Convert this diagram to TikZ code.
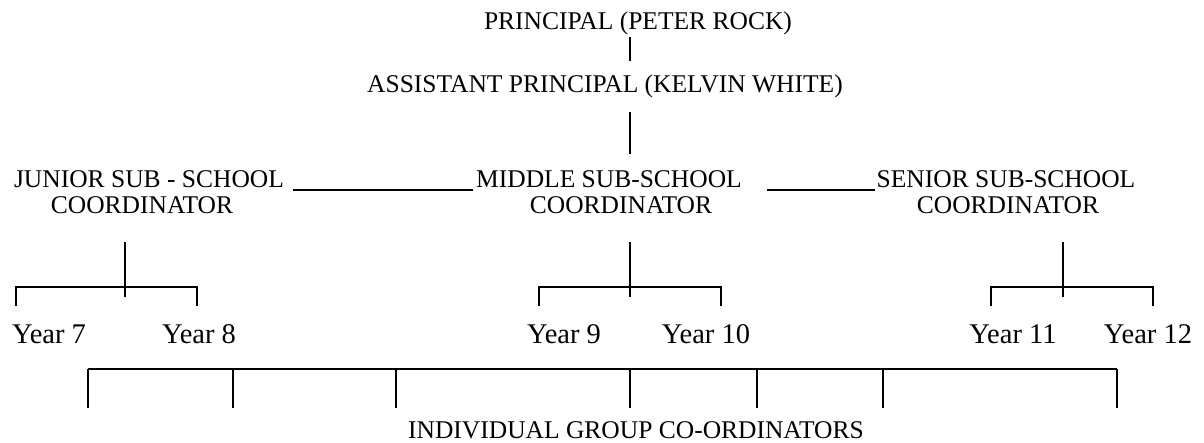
\documentclass[tikz,border=0pt]{standalone}
\usepackage{fontspec}
\setmainfont{Liberation Serif}
\begin{document}
\begin{tikzpicture}[x=1pt,y=-1pt,
  lbl/.style={anchor=base,inner sep=0pt,font=\fontsize{25.5}{30}\selectfont},
  yr/.style={anchor=base,inner sep=0pt,font=\fontsize{28.5}{30}\selectfont},
  ln/.style={line width=1.3pt,line cap=butt}]
\useasboundingbox (0,0) rectangle (1204,442);
% text nodes
\node[lbl] (prin) at (638,29) {PRINCIPAL (PETER ROCK)};
\node[lbl] (asst) at (605,92) {ASSISTANT PRINCIPAL (KELVIN WHITE)};
\node[lbl] (jun1) at (149,187) {JUNIOR SUB - SCHOOL};
\node[lbl] (jun2) at (142,213) {COORDINATOR};
\node[lbl] (mid1) at (609,187) {MIDDLE SUB-SCHOOL};
\node[lbl] (mid2) at (621,213) {COORDINATOR};
\node[lbl] (sen1) at (1006,187) {SENIOR SUB-SCHOOL};
\node[lbl] (sen2) at (1008,213) {COORDINATOR};
\node[yr] (y7) at (49,343) {Year 7};
\node[yr] (y8) at (199,343) {Year 8};
\node[yr] (y9) at (564,343) {Year 9};
\node[yr] (y10) at (706,343) {Year 10};
\node[yr] (y11) at (1013,343) {Year 11};
\node[yr] (y12) at (1148,343) {Year 12};
\node[lbl] (igc) at (636,438) {INDIVIDUAL GROUP CO-ORDINATORS};
% coordinates
\coordinate (p1) at (630,37);  \coordinate (p2) at (630,61);
\coordinate (a1) at (630,112); \coordinate (a2) at (630,154);
\coordinate (jm1) at (293,190); \coordinate (jm2) at (473,190);
\coordinate (ms1) at (767,190); \coordinate (ms2) at (875,190);
% brackets
\foreach \n/\c/\l/\r in {jb/125/16/197, mb/630/539/721, sb/1063/991/1153}{
  \coordinate (\n top) at (\c,242);
  \coordinate (\n bot) at (\c,297);
  \coordinate (\n L) at (\l,287);
  \coordinate (\n R) at (\r,287);
  \coordinate (\n Ld) at (\l,306);
  \coordinate (\n Rd) at (\r,306);
  \draw[ln] (\n top) -- (\n bot);
  \draw[ln] (\n Ld) -- (\n L) -- (\n R) -- (\n Rd);
}
% connectors
\draw[ln] (p1) -- (p2);
\draw[ln] (a1) -- (a2);
\draw[ln] (jm1) -- (jm2);
\draw[ln] (ms1) -- (ms2);
% bottom bar
\coordinate (bl) at (88,369);
\coordinate (br) at (1117,369);
\draw[ln] (bl) -- (br);
\foreach \x in {88,233,396,630,757,883,1117}{
  \coordinate (t\x) at (\x,369);
  \coordinate (d\x) at (\x,408);
  \draw[ln] (t\x) -- (d\x);
}
\end{tikzpicture}
\end{document}
